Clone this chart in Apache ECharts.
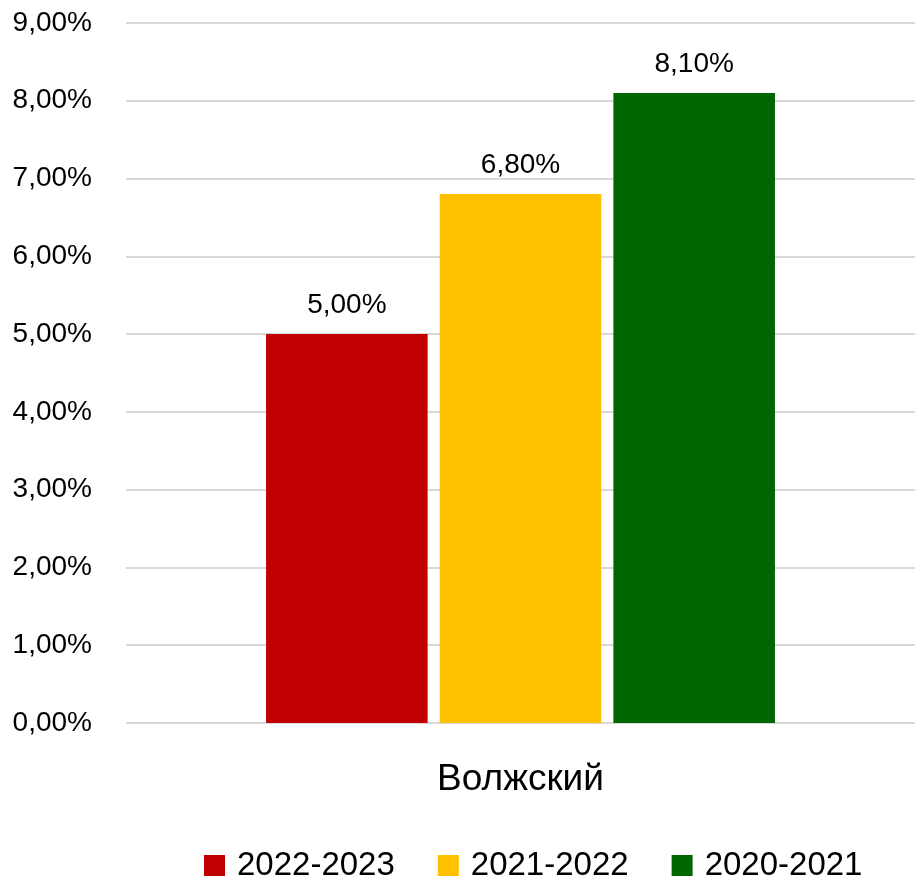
<!DOCTYPE html>
<html>
<head>
<meta charset="utf-8">
<script src="https://cdn.jsdelivr.net/npm/echarts@6/dist/echarts.min.js"></script>
<style>
  html, body { margin: 0; padding: 0; background: #fff; }
  #chart { width: 915px; height: 876px; }
</style>
</head>
<body>
<div id="chart"></div>
<script>
const categories = ['Волжский'];
const seriesNames = ['2022-2023', '2021-2022', '2020-2021'];
const seriesValues = [[5.0], [6.8], [8.1]];
const seriesColors = ['#C00000', '#FFC000', '#006600'];

const fontFamily = '"Liberation Sans", Arial, sans-serif';

function pct(v) {
  return v.toFixed(2).replace('.', ',') + '%';
}

const chart = echarts.init(document.getElementById('chart'));

const option = {
  backgroundColor: '#ffffff',
  animation: false,
  textStyle: { fontFamily: fontFamily, color: '#000' },
  grid: { left: 126, right: -3, top: 23, bottom: 153 },
  legend: {
    top: 844,
    left: 199,
    itemWidth: 21,
    itemHeight: 21,
    itemGap: 43,
    icon: 'rect',
    textStyle: { fontSize: 33, color: '#000', fontFamily: fontFamily, padding: [0, 0, 0, 7] },
    data: seriesNames
  },
  xAxis: {
    type: 'category',
    data: categories,
    axisLine: { show: false },
    axisTick: { show: false },
    axisLabel: { fontSize: 37, color: '#000', margin: 38, fontFamily: fontFamily }
  },
  yAxis: {
    type: 'value',
    min: 0,
    max: 9,
    interval: 1,
    axisLine: { show: false },
    axisTick: { show: false },
    splitLine: { lineStyle: { color: '#d9d9d9', width: 2 } },
    axisLabel: { fontSize: 28, color: '#000', margin: 34, formatter: pct, fontFamily: fontFamily }
  },
  series: seriesNames.map((name, i) => ({
    name: name,
    type: 'bar',
    data: seriesValues[i],
    barCategoryGap: '35.5%',
    barGap: '7.5%',
    itemStyle: { color: seriesColors[i] },
    label: {
      show: true,
      position: 'top',
      distance: 15,
      fontSize: 28,
      color: '#000',
      fontFamily: fontFamily,
      formatter: p => pct(p.value)
    }
  }))
};

chart.setOption(option);
</script>
</body>
</html>
